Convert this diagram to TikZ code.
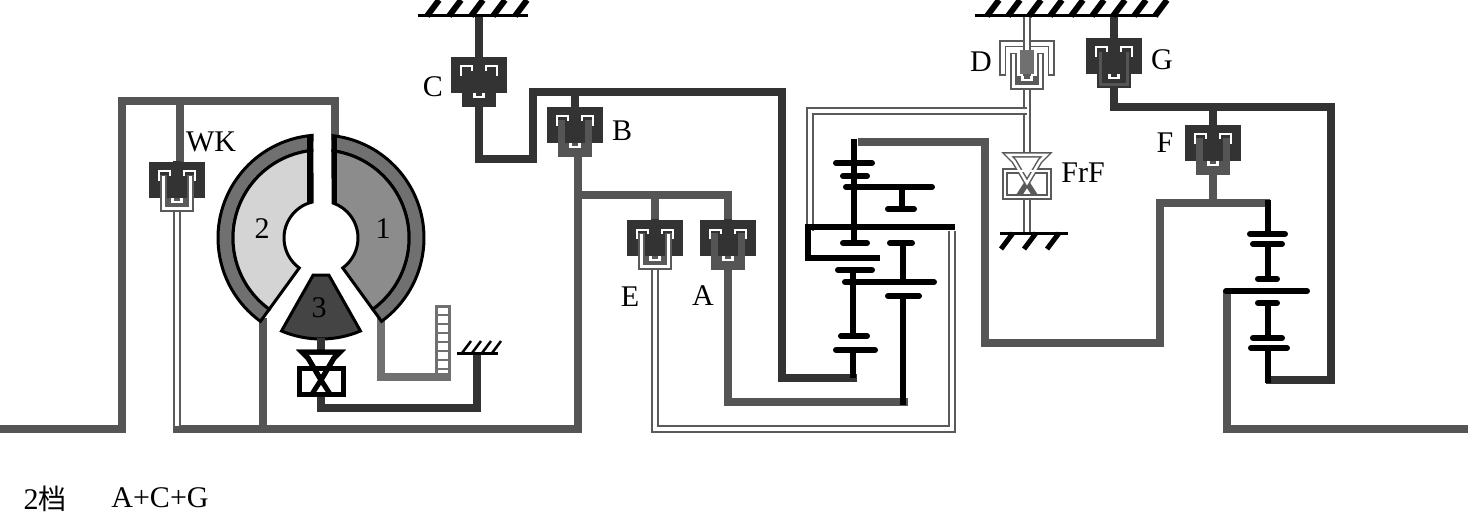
\documentclass[tikz,border=0pt]{standalone}
\usepackage{fontspec}
\setmainfont{Liberation Serif}
\newfontfamily\cjkfont{Noto Sans CJK SC}
\usetikzlibrary{calc}
\definecolor{darkline}{HTML}{333333}
\definecolor{midline}{HTML}{555555}
\definecolor{edgeline}{HTML}{5A5A5A}
\definecolor{casegray}{HTML}{707070}
\definecolor{bladeone}{HTML}{8C8C8C}
\definecolor{bladetwo}{HTML}{D4D4D4}
\definecolor{bladethree}{HTML}{444444}
\tikzset{
  shaft/.style={line width=8.5pt,miter limit=10},
  shafthollow/.style={draw=edgeline,line width=2.2pt,double=white,double distance=4.2pt},
  gearline/.style={black,line width=6pt},
  plateline/.style={black,line width=6pt,line cap=round},
  bladeedge/.style={black,line width=3pt},
  label/.style={font=\fontsize{30}{30}\selectfont,inner sep=0pt}
}
% one clutch: top centre, cap edge, cap fill, cup edge, cup fill
\newcommand{\clutch}[5]{
  \begin{scope}[shift={(#1)}]
    \draw[#2,line width=8pt] (-24,36) -- (-24,4) -- (24,4) -- (24,36);
    \draw[#3,line width=4pt] (-24,34) -- (-24,4) -- (24,4) -- (24,34);
    \fill[#3] (-21,7) rectangle (21,36);
    \draw[#2,line width=8pt] (0,-1) -- (0,36);
    \draw[#3,line width=4pt] (0,-1) -- (0,34);
    \draw[white,line width=2pt] (-18,19) -- (-18,9.5) -- (-7,9.5) -- (-7,14);
    \draw[white,line width=2pt] (18,19) -- (18,9.5) -- (7,9.5) -- (7,14);
    \fill[#4] (-13.5,36) rectangle (13.5,47);
    \draw[#4,line width=7pt] (-13.5,13) -- (-13.5,46.5) -- (13.5,46.5) -- (13.5,13);
    \draw[#5,line width=3pt] (-13.5,14) -- (-13.5,46.5) -- (13.5,46.5) -- (13.5,14);
    \draw[white,line width=2.2pt] (-4.5,36) -- (-4.5,40) -- (4.5,40) -- (4.5,36);
  \end{scope}
}
% one freewheel: top centre, colour, line width, inner colour, inner width
\newcommand{\freewheel}[5]{
  \begin{scope}[shift={(#1)},line join=miter]
    \draw[#2,line width=#3,fill=white] (-22,18) rectangle (22,44);
    \draw[#2,line width=#3,fill=white] (-19,2) -- (19,2) -- (13,8) -- (0,30) -- (-13,8) -- cycle;
    \draw[#2,line width=#3] (0,30) -- (-9,44);
    \draw[#2,line width=#3] (0,30) -- (9,44);
    \draw[#4,line width=#5] (-22,18) rectangle (22,44);
    \draw[#4,line width=#5] (-19,2) -- (19,2) -- (13,8) -- (0,30) -- (-13,8) -- cycle;
  \end{scope}
}
% one ground: left end, right end, y, hatch rise, first hatch, next hatch, width
\newcommand{\ground}[7]{
  \draw[black,line width=3pt] (#1,#3) -- (#2,#3);
  \foreach \hx in {#5,#6,...,#2}
    \draw[black,line width=#7] (\hx,#3) -- ++({(#4)*0.75},{-(#4)});
}
\begin{document}
\begin{tikzpicture}[x=1pt,y=-1pt]
  \useasboundingbox (0,0) rectangle (1468,516);
  % Define coordinates
  \coordinate (hub) at (321,238);
  \coordinate (WKtop) at (177,162);
  \coordinate (Ctop) at (479,57);
  \coordinate (Btop) at (575,107);
  \coordinate (Etop) at (655,220);
  \coordinate (Atop) at (728,220);
  \coordinate (Dtop) at (1027,40);
  \coordinate (Gtop) at (1114,38);
  \coordinate (Ftop) at (1213,125);
  % Input and converter shafts
  \draw[shaft,midline] (0,429) -- (122,429) -- (122,101) -- (335,101) -- (335,140);
  \draw[shaft,midline] (180,101) -- (180,164);
  \draw[shaft,midline] (173,429) -- (578,429) -- (578,155);
  \draw[shaft,midline] (263,318) -- (263,429);
  \draw[shafthollow] (177,205) -- (177,426);
  \draw[shaft,casegray] (381,318) -- (381,377) -- (451,377);
  \draw[shaft,darkline] (321,395) -- (321,408) -- (477,408) -- (477,353);
  % Lock-up ladder
  \draw[casegray,line width=3pt,fill=white] (436,306) rectangle (449,374);
  \foreach \ry in {315,324,...,369}
    \draw[casegray,line width=2.5pt] (436,\ry) -- (449,\ry);
  % Clutch shafts
  \draw[shaft,darkline] (479,15) -- (479,60);
  \draw[shaft,darkline] (479,100) -- (479,159) -- (533,159) -- (533,92) -- (782,92) -- (782,378) -- (857,378);
  \draw[shaft,darkline] (575,92) -- (575,110);
  \draw[shaft,midline] (578,195) -- (728,195) -- (728,222);
  \draw[shaft,midline] (655,195) -- (655,222);
  \draw[shaft,midline] (728,265) -- (728,402) -- (908,402);
  \draw[shafthollow] (655,264) -- (655,429) -- (952,429) -- (952,231);
  \draw[shafthollow] (1027,15) -- (1027,42);
  \draw[shafthollow] (1027,85) -- (1027,233);
  \draw[shafthollow] (1027,111) -- (810,111) -- (810,231);
  \draw[shaft,midline] (858,142) -- (985,142) -- (985,343) -- (1160,343) -- (1160,203) -- (1270,203);
  \draw[shaft,midline] (1213,165) -- (1213,203);
  \draw[shaft,darkline] (1114,15) -- (1114,40);
  \draw[shaft,darkline] (1114,80) -- (1114,107) -- (1331,107) -- (1331,380) -- (1266,380);
  \draw[shaft,darkline] (1213,107) -- (1213,127);
  \draw[shaft,midline] (1468,429) -- (1227,429) -- (1227,291);
  % Planetary sets on the left
  \draw[gearline] (854,139) -- (854,243);
  \draw[gearline] (808,258) -- (808,227) -- (955,227);
  \draw[gearline] (805,258) -- (880,258);
  \draw[gearline] (853,270) -- (853,336);
  \draw[gearline] (853,350) -- (853,378);
  \draw[gearline] (903,243) -- (903,282);
  \draw[gearline] (903,296) -- (903,405);
  \draw[gearline] (902,187) -- (902,209);
  \draw[plateline] (836,163) -- (872,163);
  \draw[plateline] (843,176) -- (867,176);
  \draw[plateline] (846,187) -- (932,187);
  \draw[plateline] (888,209) -- (914,209);
  \draw[plateline] (843,243) -- (867,243);
  \draw[plateline] (890,243) -- (912,243);
  \draw[plateline] (838,270) -- (872,270);
  \draw[plateline] (845,282) -- (934,282);
  \draw[plateline] (888,296) -- (919,296);
  \draw[plateline] (841,336) -- (867,336);
  \draw[plateline] (836,350) -- (875,350);
  % Planetary set on the right
  \draw[gearline] (1268,200) -- (1268,234);
  \draw[gearline] (1268,244) -- (1268,279);
  \draw[gearline] (1268,303) -- (1268,338);
  \draw[gearline] (1268,348) -- (1268,383);
  \draw[plateline] (1250,234) -- (1285,234);
  \draw[plateline] (1253,244) -- (1282,244);
  \draw[plateline] (1258,279) -- (1277,279);
  \draw[plateline] (1226,291) -- (1307,291);
  \draw[plateline] (1258,303) -- (1277,303);
  \draw[plateline] (1253,338) -- (1282,338);
  \draw[plateline] (1251,348) -- (1287,348);
  % Converter casing and blades
  \draw[bladeedge,fill=casegray] ($(hub)+(-83.3:103)$) arc (-83.3:54:103) -- ($(hub)+(54:88)$) arc (54:-82.2:88) -- cycle;
  \draw[bladeedge,fill=casegray] ($(hub)+(-95:103)$) arc (-95:-234:103) -- ($(hub)+(-234:88)$) arc (-234:-95.9:88) -- cycle;
  \draw[bladeedge,fill=bladeone] ($(hub)+(-82.2:88)$) arc (-82.2:54:88) -- ($(hub)+(54:37)$) arc (54:-71:37) -- cycle;
  \draw[bladeedge,fill=bladetwo] ($(hub)+(-95.9:88)$) arc (-95.9:-234:88) -- ($(hub)+(-234:37)$) arc (-234:-104:37) -- cycle;
  \draw[bladeedge,fill=bladethree] ($(hub)+(67:101)$) arc (67:113:101) -- ($(hub)+(102:38)$) -- ($(hub)+(78:38)$) -- cycle;
  \draw[black,line width=5pt] (334,136) -- (334,203);
  \draw[black,line width=5pt] (309,136) -- (309,203);
  \draw[shaft,darkline] (321,338) -- (321,350);
  % Clutches
  \clutch{WKtop}{darkline}{darkline}{edgeline}{white}
  \clutch{Ctop}{darkline}{darkline}{darkline}{darkline}
  \clutch{Btop}{darkline}{darkline}{midline}{midline}
  \clutch{Etop}{darkline}{darkline}{edgeline}{white}
  \clutch{Atop}{darkline}{darkline}{midline}{midline}
  \clutch{Dtop}{edgeline}{white}{edgeline}{white}
  \fill[casegray] (1020,50) rectangle (1034,74);
  \clutch{Gtop}{darkline}{darkline}{darkline}{midline}
  \clutch{Ftop}{darkline}{darkline}{midline}{midline}
  % Freewheels
  \freewheel{321,350}{black}{5pt}{black}{5pt}
  \freewheel{1027,153}{edgeline}{5.5pt}{white}{2.5pt}
  % Grounds
  \ground{418}{528}{16}{16}{427}{449}{6pt}
  \ground{975}{1157}{16}{16}{987}{1008}{6pt}
  \ground{1000}{1068}{233}{-16}{1013}{1036}{5pt}
  \ground{457}{498}{353}{12}{462}{472}{2.5pt}
  % Labels
  \node[label] (lblWK) at (211,142) {WK};
  \node[label] (lblone) at (383,229) {1};
  \node[label] (lbltwo) at (262,229) {2};
  \node[label] (lblthree) at (319,308) {3};
  \node[label] (lblC) at (433,87) {C};
  \node[label] (lblB) at (622,131) {B};
  \node[label] (lblE) at (630,297) {E};
  \node[label] (lblA) at (703,296) {A};
  \node[label] (lblD) at (981,62) {D};
  \node[label] (lblG) at (1162,60) {G};
  \node[label] (lblF) at (1165,143) {F};
  \node[label] (lblFrF) at (1083,173) {FrF};
  \node[label] (lblgear) at (45,499) {2{\cjkfont\fontsize{28}{28}\selectfont 档}};
  \node[label] (lblclutches) at (160,498) {A+C+G};
\end{tikzpicture}
\end{document}
